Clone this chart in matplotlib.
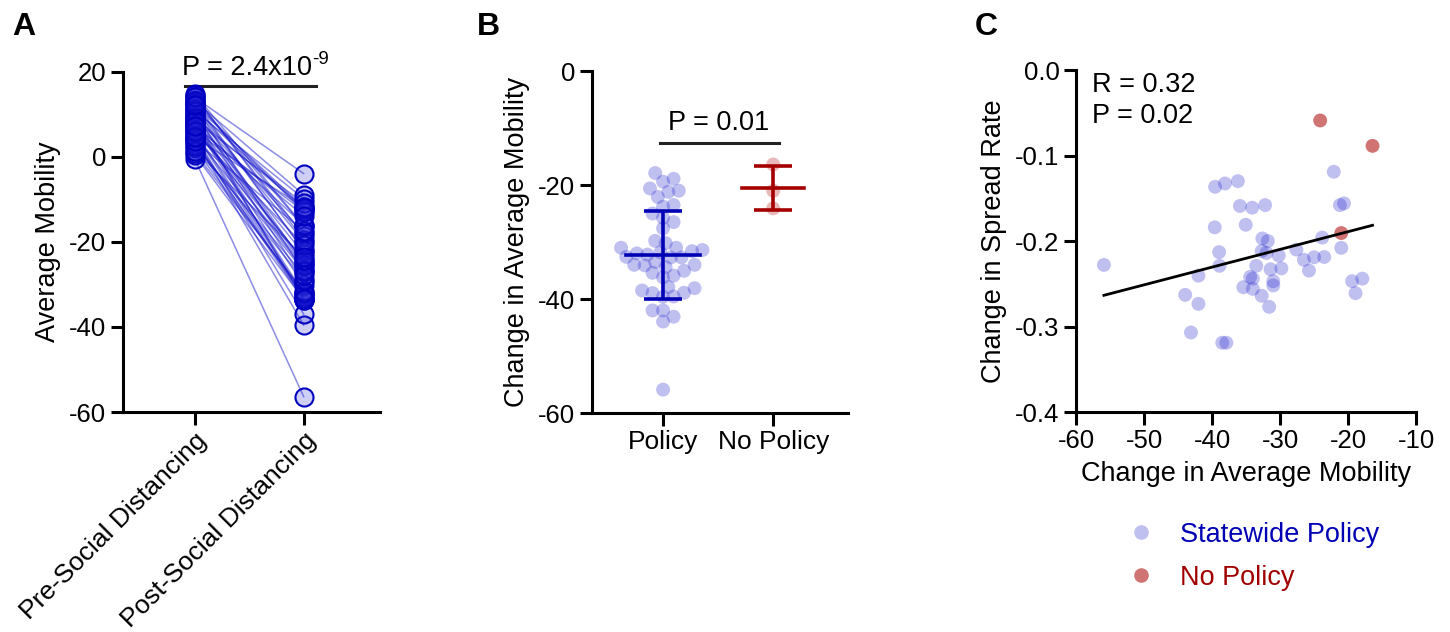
import numpy as np
import matplotlib
matplotlib.use("Agg")
import matplotlib.pyplot as plt
from matplotlib.lines import Line2D

plt.rcParams['font.family'] = ['Liberation Sans', 'DejaVu Sans']
plt.rcParams['axes.unicode_minus'] = False

# -----------------------------------------------------------------------------
# data
# change in average mobility (post - pre) for states with a statewide policy
policy_change = [-55.9, -43.95, -42.0, -43.1, -38.5, -37.9, -39.55, -38.1, -36.2,
                 -39.6, -38.96, -38.9, -42.0, -35.9, -34.1, -32.2, -35.05, -32.6,
                 -31.8, -32.7, -32.0, -33.5, -34.4, -34.0, -35.4, -34.0, -32.7,
                 -31.6, -31.4, -29.8, -30.2, -31.0, -31.0, -27.6, -26.5, -25.75,
                 -25.0, -23.5, -23.8, -22.1, -21.2, -20.6, -21.0, -19.4, -17.9, -18.9]
# change in spread rate, same order
policy_spread = [-0.228, -0.263, -0.2735, -0.307, -0.319, -0.319, -0.1366, -0.1327,
                 -0.130, -0.184, -0.213, -0.229, -0.2405, -0.159, -0.161, -0.158,
                 -0.181, -0.197, -0.200, -0.2117, -0.214, -0.229, -0.242, -0.244,
                 -0.254, -0.256, -0.264, -0.277, -0.233, -0.232, -0.217, -0.247,
                 -0.252, -0.210, -0.222, -0.2346, -0.219, -0.2187, -0.196, -0.119,
                 -0.158, -0.156, -0.208, -0.247, -0.244, -0.261]
nopolicy_change = [-24.1, -16.4, -21.0]
nopolicy_spread = [-0.059, -0.0887, -0.1907]

# pre social distancing mobility (policy states, then no-policy states)
pre_mobility = [-0.5, 4.4, 5.0, 9.5, 6.0, 4.2, 7.5, 8.0, 3.5, 10.5, 12.0, 5.5, 8.8,
                11.0, 2.0, 6.5, 13.0, 1.0, 9.0, 14.2, 3.0, 7.0, 12.5, 0.5, 10.0,
                14.5, 8.2, 4.8, 11.5, 13.5, 2.5, 6.8, 14.8, 9.8, 5.8, 12.8, 1.5,
                11.2, 7.8, 13.2, 3.8, 10.8, 9.2, 8.5, 14.0, 6.2,
                12.2, 4.6, 7.2]

period_labels = ['Pre-Social Distancing', 'Post-Social Distancing']
group_labels = ['Policy', 'No Policy']
legend_labels = ['Statewide Policy', 'No Policy']

BLUE = '#0000c0'
RED = '#a50000'
LBL = 19.5


# -----------------------------------------------------------------------------
def style_axes(ax):
    ax.spines['top'].set_visible(False)
    ax.spines['right'].set_visible(False)
    ax.spines['left'].set_linewidth(2.2)
    ax.spines['bottom'].set_linewidth(2.2)
    ax.tick_params(width=2.2, length=9, labelsize=18.5, pad=3)


def swarm_offsets(ax, values, dist_px):
    # simple beeswarm: nudge points sideways until they are dist_px apart
    values = np.asarray(values, dtype=float)
    yp = ax.transData.transform(np.column_stack([np.zeros(len(values)), values]))[:, 1]
    step = dist_px / 4.0
    xs = np.zeros(len(values))
    px_list, py_list = [], []
    for i in np.argsort(yp):
        k = 0
        found = None
        while found is None:
            cands = [0.0] if k == 0 else [k * step, -k * step]
            for c in cands:
                if all((c - a) ** 2 + (yp[i] - b) ** 2 >= dist_px ** 2
                       for a, b in zip(px_list, py_list)):
                    found = c
                    break
            k += 1
        xs[i] = found
        px_list.append(found)
        py_list.append(yp[i])
    x0 = ax.transData.transform((0, 0))[0]
    x1 = ax.transData.transform((1, 0))[0]
    return xs / (x1 - x0)


# -----------------------------------------------------------------------------
fig = plt.figure(figsize=(14.5, 6.32), dpi=100)

all_change = np.array(policy_change + nopolicy_change)
pre = np.array(pre_mobility)
post = pre + all_change

# ---- panel A
axA = fig.add_axes([0.0848, 0.3481, 0.1772, 0.538])
style_axes(axA)
axA.set_xlim(-0.66, 1.7)
axA.set_ylim(-60, 20)
axA.set_yticks([-60, -40, -20, 0, 20])
for a, b in zip(pre, post):
    axA.plot([0, 1], [a, b], color=(0.1, 0.1, 0.8, 0.5), lw=1.1, zorder=2)
for xpos, vals in [(0, pre), (1, post)]:
    axA.plot(np.full(len(vals), xpos), vals, 'o', ms=13, ls='none',
             mfc=(0.15, 0.15, 0.85, 0.22), mec=BLUE, mew=1.5, zorder=3, clip_on=False)
axA.set_xticks([0, 1])
axA.set_xticklabels(period_labels, rotation=45, ha='right', rotation_mode='anchor',
                    fontsize=19)
axA.set_ylabel('Average Mobility', fontsize=LBL, labelpad=6)
axA.plot([-0.09, 1.11], [16.7, 16.7], color='#222222', lw=2.2, clip_on=False)
axA.text(1.073, 19.3, 'P = 2.4x10', ha='right', va='baseline', fontsize=LBL)
axA.annotate('-9', xy=(1.073, 19.3), xytext=(0.5, 8), textcoords='offset points',
             ha='left', va='baseline', fontsize=13.5, annotation_clip=False)

# ---- panel B
axB = fig.add_axes([0.4083, 0.3465, 0.1766, 0.5411])
style_axes(axB)
axB.set_xlim(-0.645, 1.68)
axB.set_ylim(-60, 0)
axB.set_yticks([-60, -40, -20, 0])
axB.set_xticks([0, 1])
axB.set_xticklabels(group_labels, fontsize=19)
axB.set_ylabel('Change in Average Mobility', fontsize=LBL, labelpad=6)

groups = [(policy_change, (0.1, 0.1, 0.8, 0.28), '#0000b4', 0.336),
          (nopolicy_change, (0.7, 0.0, 0.0, 0.28), RED, 0.28)]
for i, (vals, fc, ec, half) in enumerate(groups):
    off = swarm_offsets(axB, vals, 10.5)
    axB.scatter(i + off, vals, s=100, color=fc, edgecolors='none', zorder=2)
    m = np.mean(vals)
    sd = np.std(vals, ddof=1)
    axB.errorbar(i, m, yerr=sd, color=ec, lw=2.6, capsize=13.5, capthick=2.6, zorder=3)
    axB.plot([i - half, i + half], [m, m], color=ec, lw=2.6, zorder=3)
axB.plot([-0.03, 1.05], [-12.6, -12.6], color='#222222', lw=2.2)
axB.text(0.5, -10.35, 'P = 0.01', ha='center', va='baseline', fontsize=LBL)

# ---- panel C
axC = fig.add_axes([0.7421, 0.3481, 0.2345, 0.5411])
style_axes(axC)
axC.set_xlim(-60, -10)
axC.set_ylim(-0.4, 0.0)
axC.set_xticks([-60, -50, -40, -30, -20, -10])
axC.set_yticks([-0.4, -0.3, -0.2, -0.1, 0.0])
axC.yaxis.set_major_formatter(matplotlib.ticker.FormatStrFormatter('%.1f'))
axC.scatter(policy_change, policy_spread, s=100, color=(0.1, 0.1, 0.8, 0.28),
            edgecolors='none', zorder=2)
axC.scatter(nopolicy_change, nopolicy_spread, s=100, color=(0.67, 0.0, 0.0, 0.55),
            edgecolors='none', zorder=2)
xs = np.array(policy_change + nopolicy_change)
ys = np.array(policy_spread + nopolicy_spread)
slope, icpt = np.polyfit(xs, ys, 1)
xl = np.array([xs.min(), xs.max()])
axC.plot(xl, slope * xl + icpt, color='black', lw=2.0, zorder=3)
axC.text(-57.7, -0.0254, 'R = 0.32', ha='left', va='baseline', fontsize=LBL)
axC.text(-57.7, -0.062, 'P = 0.02', ha='left', va='baseline', fontsize=LBL)
axC.set_xlabel('Change in Average Mobility', fontsize=LBL, labelpad=6)
axC.set_ylabel('Change in Spread Rate', fontsize=LBL, labelpad=6)

handles = [Line2D([], [], marker='o', ls='none', ms=10.5, mec='none',
                  mfc=(0.1, 0.1, 0.8, 0.28)),
           Line2D([], [], marker='o', ls='none', ms=10.5, mec='none',
                  mfc=(0.67, 0.0, 0.0, 0.55))]
fig.legend(handles, legend_labels, loc='upper left', bbox_to_anchor=(0.7776, 0.1745),
           frameon=False, fontsize=LBL, labelcolor=['#0000b4', '#a00000'],
           borderpad=0, borderaxespad=0, handlelength=1, handletextpad=0.94,
           labelspacing=0.62)

# panel letters
for x, letter in [(12, 'A'), (477, 'B'), (975, 'C')]:
    fig.text(x / 1450, 1 - 12 / 632, letter, ha='left', va='top', fontsize=23,
             weight='bold')

fig.savefig('out.png', dpi=100)
